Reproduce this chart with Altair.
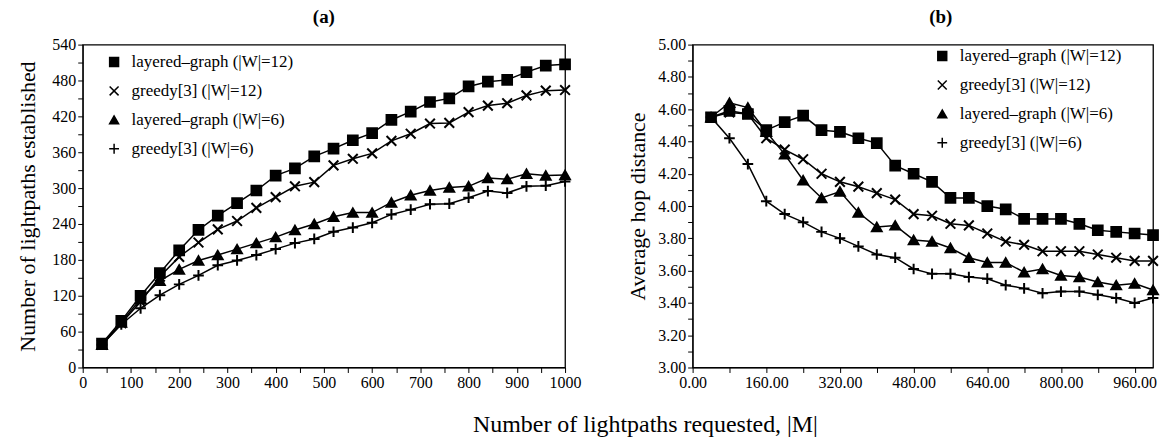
import altair as alt
import pandas as pd

# ---------------- data ----------------
requested = [40, 80, 120, 160, 200, 240, 280, 320, 360, 400, 440, 480, 520,
             560, 600, 640, 680, 720, 760, 800, 840, 880, 920, 960, 1000]

series_names = ["layered–graph (|W|=12)", "greedy[3] (|W|=12)",
                "layered–graph (|W|=6)", "greedy[3] (|W|=6)"]

# panel (a): number of lightpaths established
a_layered12 = [40, 78, 120, 158, 196, 230, 254, 275, 296, 321, 333, 353, 366,
               380, 392, 414, 428, 444, 450, 470, 478, 481, 494, 505, 507]
a_greedy12 = [38, 74, 110, 152, 185, 209, 231, 245, 267, 285, 303, 310, 338,
              349, 358, 379, 391, 408, 409, 427, 438, 442, 455, 463, 464]
a_layered6 = [38, 75, 115, 145, 164, 179, 188, 198, 208, 218, 230, 240, 252,
              259, 259, 276, 288, 296, 301, 303, 317, 315, 324, 321, 322]
a_greedy6 = [38, 72, 99, 121, 139, 154, 171, 179, 188, 198, 208, 215, 227,
             234, 242, 256, 264, 273, 274, 284, 295, 292, 303, 304, 311]

# panel (b): average hop distance
b_layered12 = [4.55, 4.59, 4.57, 4.47, 4.52, 4.56, 4.47, 4.46, 4.42, 4.39, 4.25,
               4.20, 4.15, 4.05, 4.05, 4.00, 3.98, 3.92, 3.92, 3.92, 3.89, 3.85,
               3.84, 3.83, 3.82]
b_greedy12 = [4.55, 4.58, 4.57, 4.42, 4.35, 4.29, 4.20, 4.15, 4.12, 4.08, 4.04,
              3.95, 3.94, 3.89, 3.88, 3.83, 3.78, 3.76, 3.72, 3.72, 3.72, 3.70,
              3.68, 3.66, 3.66]
b_layered6 = [4.55, 4.64, 4.61, 4.46, 4.32, 4.16, 4.05, 4.09, 3.96, 3.87, 3.88,
              3.79, 3.78, 3.74, 3.68, 3.65, 3.65, 3.59, 3.61, 3.57, 3.56, 3.53,
              3.51, 3.52, 3.48]
b_greedy6 = [4.55, 4.42, 4.26, 4.03, 3.95, 3.90, 3.84, 3.80, 3.75, 3.70, 3.68,
             3.61, 3.58, 3.58, 3.56, 3.55, 3.51, 3.49, 3.46, 3.47, 3.47, 3.45,
             3.43, 3.40, 3.43]

a_ticks_x = list(range(0, 1001, 50))
a_ticks_y = list(range(0, 541, 30))
b_ticks_x = list(range(0, 1001, 80))
b_ticks_y = [round(3.0 + 0.1 * i, 1) for i in range(21)]


def make_df(series_values):
    rows = []
    for name, vals in zip(series_names, series_values):
        for x, v in zip(requested, vals):
            rows.append({"M": x, "value": v, "series": name})
    return pd.DataFrame(rows)


df_a = make_df([a_layered12, a_greedy12, a_layered6, a_greedy6])
df_b = make_df([b_layered12, b_greedy12, b_layered6, b_greedy6])

x_path = "M-1,-1L1,1M-1,1L1,-1"
plus_path = "M-1.1,0L1.1,0M0,-1.1L0,1.1"
shape_range = ["square", x_path, "triangle-up", plus_path]
fill_range = ["black", "transparent", "black", "transparent"]
stroke_range = ["black", "black", "black", "black"]

FONT = "Liberation Serif"


def panel(df, title, title_dx, width, height, xscale, yscale, xaxis, yaxis,
          legend_x, legend_y):
    legend = alt.Legend(title=None, orient="none", legendX=legend_x,
                        legendY=legend_y, labelFont=FONT, labelFontSize=17,
                        labelColor="black", rowPadding=11, symbolSize=80,
                        symbolStrokeColor="black", symbolStrokeWidth=1.5,
                        labelOffset=9, padding=0, labelLimit=300)
    x = alt.X("M:Q", scale=xscale, axis=xaxis)
    y = alt.Y("value:Q", scale=yscale, axis=yaxis)
    base = alt.Chart(df)
    lines = base.mark_line(color="black", strokeWidth=1.5).encode(
        x=x, y=y, detail="series:N")
    points = base.mark_point(size=95, strokeWidth=2, opacity=1).encode(
        x=x, y=y,
        shape=alt.Shape("series:N", scale=alt.Scale(domain=series_names,
                                                    range=shape_range),
                        legend=legend),
        fill=alt.Fill("series:N", scale=alt.Scale(domain=series_names,
                                                  range=fill_range),
                      legend=legend),
        stroke=alt.Stroke("series:N", scale=alt.Scale(domain=series_names,
                                                      range=stroke_range),
                          legend=legend),
    )
    return alt.layer(lines, points).properties(
        width=width, height=height,
        title=alt.TitleParams(title, font=FONT, fontSize=19, fontWeight="bold",
                              anchor="middle", dx=title_dx, offset=10,
                              color="black"),
    )


axis_common = dict(grid=False, tickSize=5, labelPadding=2, domainColor="black",
                   tickColor="black", labelFont=FONT, labelFontSize=16,
                   labelColor="black", titleFont=FONT, titleFontSize=22,
                   titleFontWeight="normal", titleColor="black")

chart_a = panel(
    df_a, "(a)", 0, 484, 324,
    alt.Scale(domain=[0, 1000], nice=False),
    alt.Scale(domain=[0, 540], nice=False),
    alt.Axis(values=a_ticks_x, title=None, labelFlush=False, format="d",
             labelExpr="datum.value % 100 == 0 ? datum.label : ''", **axis_common),
    alt.Axis(values=a_ticks_y, title="Number of lightpaths established",
             titlePadding=12, format="d",
             labelExpr="datum.value % 60 == 0 ? datum.label : ''", **axis_common),
    23, 9,
)

chart_b = panel(
    df_b, "(b)", 18, 462, 324,
    alt.Scale(domain=[0, 1000], nice=False),
    alt.Scale(domain=[3, 5], nice=False),
    alt.Axis(values=b_ticks_x, title=None, format=".2f", labelFlush=False,
             labelExpr="datum.value % 160 == 0 ? datum.label : ''", **axis_common),
    alt.Axis(values=b_ticks_y, title="Average hop distance", titlePadding=8,
             format=".2f",
             labelExpr="round(datum.value * 10) % 2 == 0 ? datum.label : ''",
             **axis_common),
    242, 3,
)

chart = alt.hconcat(
    chart_a, chart_b, spacing=44,
    title=alt.TitleParams("Number of lightpaths requested, |M|", orient="bottom",
                          anchor="middle", font=FONT, fontSize=24,
                          fontWeight="normal", color="black", dx=56, offset=22),
).resolve_scale(
    shape="independent", fill="independent", stroke="independent"
).resolve_legend(
    shape="independent", fill="independent", stroke="independent"
).properties(
    padding={"left": 16, "top": 6, "right": 0, "bottom": 0},
    background="white",
).configure_view(
    stroke="black", strokeWidth=1.3
)

chart.save("out.html", embed_options={"renderer": "svg", "actions": False})
